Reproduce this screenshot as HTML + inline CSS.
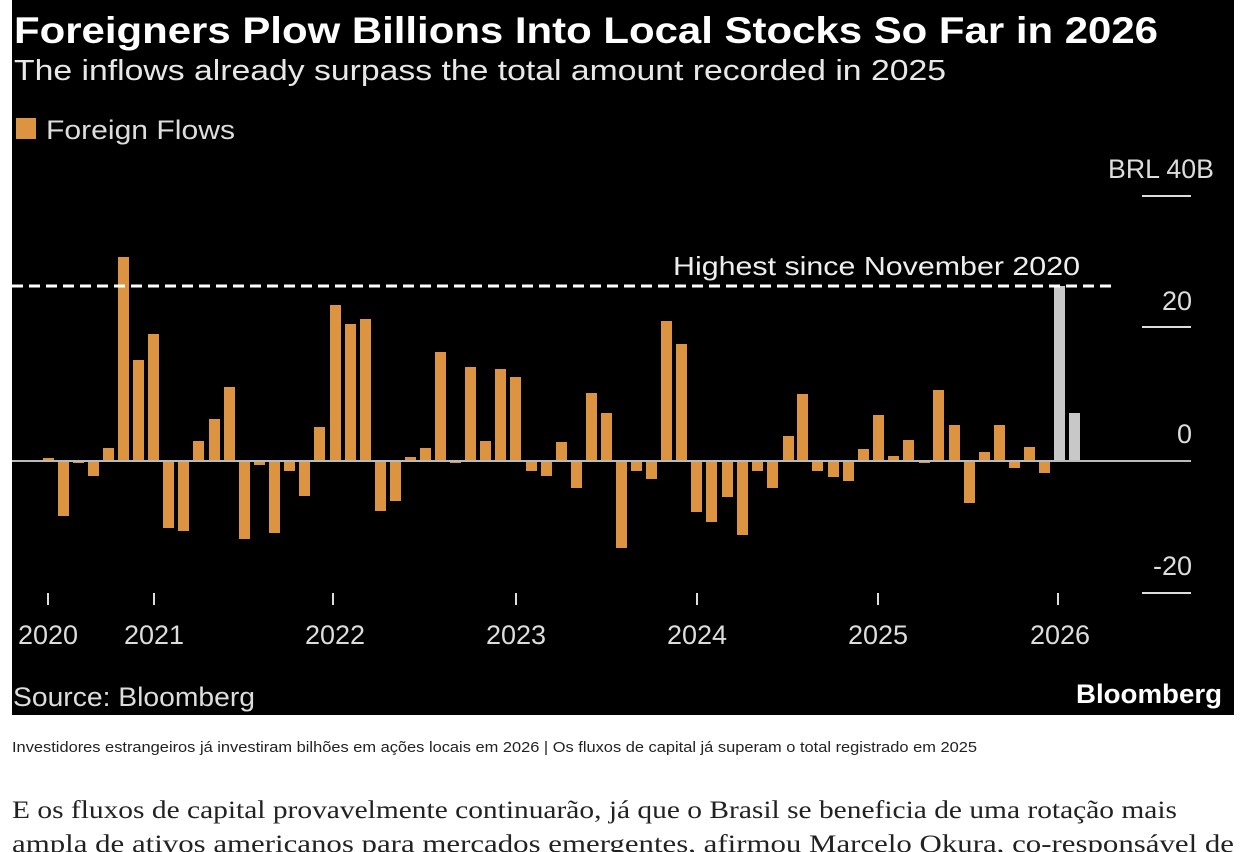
<!DOCTYPE html>
<html><head><meta charset="utf-8"><style>
html,body{margin:0;padding:0;background:#fff;width:1246px;height:852px;overflow:hidden}
svg{display:block}
</style></head><body>
<svg width="1246" height="852" viewBox="0 0 1246 852" xmlns="http://www.w3.org/2000/svg">
<rect x="12" y="0" width="1222" height="715" fill="#000"/>
<g font-family="Liberation Sans, sans-serif" fill="#fff">
<text x="14" y="43" font-size="37" font-weight="bold" textLength="1144" lengthAdjust="spacingAndGlyphs">Foreigners Plow Billions Into Local Stocks So Far in 2026</text>
<text x="14" y="80" font-size="29" fill="#e8e8e8" textLength="932" lengthAdjust="spacingAndGlyphs">The inflows already surpass the total amount recorded in 2025</text>
<rect x="16" y="118" width="20" height="21" fill="#dd9440"/>
<text x="46" y="139" font-size="27" fill="#ddd" textLength="189" lengthAdjust="spacingAndGlyphs">Foreign Flows</text>
<g font-size="27" fill="#ddd" text-anchor="end">
<text x="1214" y="178" textLength="106" lengthAdjust="spacingAndGlyphs">BRL 40B</text>
<text x="1192" y="310">20</text>
<text x="1192" y="443">0</text>
<text x="1192" y="575">-20</text>
</g>
<g stroke="#ddd" stroke-width="2">
<line x1="1142" y1="196" x2="1191" y2="196"/>
<line x1="1142" y1="327" x2="1191" y2="327"/>
<line x1="1142" y1="593" x2="1191" y2="593"/>
<line x1="48" y1="593" x2="48" y2="605"/><line x1="154" y1="593" x2="154" y2="605"/>
<line x1="333" y1="593" x2="333" y2="605"/><line x1="516" y1="593" x2="516" y2="605"/>
<line x1="697" y1="593" x2="697" y2="605"/><line x1="878" y1="593" x2="878" y2="605"/>
<line x1="1058" y1="593" x2="1058" y2="605"/>
</g>
<g font-size="27" fill="#ddd" text-anchor="middle">
<text x="48" y="644">2020</text><text x="154" y="644">2021</text><text x="335" y="644">2022</text>
<text x="516" y="644">2023</text><text x="697" y="644">2024</text><text x="878" y="644">2025</text><text x="1060" y="644">2026</text>
</g>
<text x="13" y="706" font-size="27" fill="#ddd" textLength="242" lengthAdjust="spacingAndGlyphs">Source: Bloomberg</text>
<text x="1222" y="703" font-size="27" font-weight="bold" text-anchor="end" textLength="146" lengthAdjust="spacingAndGlyphs">Bloomberg</text>
<text x="1080" y="275" font-size="26" fill="#eee" text-anchor="end" textLength="407" lengthAdjust="spacingAndGlyphs">Highest since November 2020</text>
</g>
<g fill="#dd9440">
<rect x="43" y="458" width="11" height="3"/><rect x="58" y="461" width="11" height="55"/>
<rect x="73" y="461" width="11" height="2"/><rect x="88" y="461" width="11" height="15"/>
<rect x="103" y="448" width="11" height="13"/><rect x="118" y="257" width="11" height="204"/>
<rect x="133" y="360" width="11" height="101"/><rect x="148" y="334" width="11" height="127"/>
<rect x="163" y="461" width="11" height="67"/><rect x="178" y="461" width="11" height="70"/>
<rect x="193" y="441" width="11" height="20"/><rect x="209" y="419" width="11" height="42"/>
<rect x="224" y="387" width="11" height="74"/><rect x="239" y="461" width="11" height="78"/>
<rect x="254" y="461" width="11" height="4"/><rect x="269" y="461" width="11" height="72"/>
<rect x="284" y="461" width="11" height="10"/><rect x="299" y="461" width="11" height="35"/>
<rect x="314" y="427" width="11" height="34"/><rect x="330" y="305" width="11" height="156"/>
<rect x="345" y="324" width="11" height="137"/><rect x="360" y="319" width="11" height="142"/>
<rect x="375" y="461" width="11" height="50"/><rect x="390" y="461" width="11" height="40"/>
<rect x="405" y="457" width="11" height="4"/><rect x="420" y="448" width="11" height="13"/>
<rect x="435" y="352" width="11" height="109"/><rect x="450" y="461" width="11" height="2"/>
<rect x="465" y="367" width="11" height="94"/><rect x="480" y="441" width="11" height="20"/>
<rect x="495" y="369" width="11" height="92"/><rect x="510" y="377" width="11" height="84"/>
<rect x="526" y="461" width="11" height="10"/><rect x="541" y="461" width="11" height="15"/>
<rect x="556" y="442" width="11" height="19"/><rect x="571" y="461" width="11" height="27"/>
<rect x="586" y="393" width="11" height="68"/><rect x="601" y="413" width="11" height="48"/>
<rect x="616" y="461" width="11" height="87"/><rect x="631" y="461" width="11" height="10"/>
<rect x="646" y="461" width="11" height="18"/><rect x="661" y="321" width="11" height="140"/>
<rect x="676" y="344" width="11" height="117"/><rect x="691" y="461" width="11" height="51"/>
<rect x="706" y="461" width="11" height="61"/><rect x="722" y="461" width="11" height="36"/>
<rect x="737" y="461" width="11" height="74"/><rect x="752" y="461" width="11" height="10"/>
<rect x="767" y="461" width="11" height="27"/><rect x="783" y="436" width="11" height="25"/>
<rect x="797" y="394" width="11" height="67"/><rect x="812" y="461" width="11" height="10"/>
<rect x="828" y="461" width="11" height="16"/><rect x="843" y="461" width="11" height="20"/>
<rect x="858" y="449" width="11" height="12"/><rect x="873" y="415" width="11" height="46"/>
<rect x="888" y="456" width="11" height="5"/><rect x="903" y="440" width="11" height="21"/>
<rect x="919" y="461" width="11" height="2"/><rect x="933" y="390" width="11" height="71"/>
<rect x="949" y="425" width="11" height="36"/><rect x="964" y="461" width="11" height="42"/>
<rect x="979" y="452" width="11" height="9"/><rect x="994" y="425" width="11" height="36"/>
<rect x="1009" y="461" width="11" height="7"/><rect x="1024" y="447" width="11" height="14"/>
<rect x="1039" y="461" width="11" height="12"/>
</g>
<g fill="#c8c8c8">
<rect x="1054" y="286" width="11" height="175"/><rect x="1069" y="413" width="11" height="48"/>
</g>
<line x1="12" y1="461" x2="1191" y2="461" stroke="#bbb" stroke-width="2"/>
<line x1="12" y1="286" x2="1112" y2="286" stroke="#fff" stroke-width="3" stroke-dasharray="11,6"/>
<text x="12" y="752" font-family="Liberation Sans Narrow, Liberation Sans, sans-serif" font-size="15" fill="#222" textLength="965" lengthAdjust="spacingAndGlyphs">Investidores estrangeiros já investiram bilhões em ações locais em 2026 |  Os fluxos de capital já superam o total registrado em 2025</text>
<g font-family="Liberation Serif, serif" font-size="25" fill="#222">
<text x="12" y="818" textLength="1165" lengthAdjust="spacingAndGlyphs">E os fluxos de capital provavelmente continuarão, já que o Brasil se beneficia de uma rotação mais</text>
<text x="12" y="852" textLength="1222" lengthAdjust="spacingAndGlyphs">ampla de ativos americanos para mercados emergentes, afirmou Marcelo Okura, co-responsável de</text>
</g>
</svg>
</body></html>
